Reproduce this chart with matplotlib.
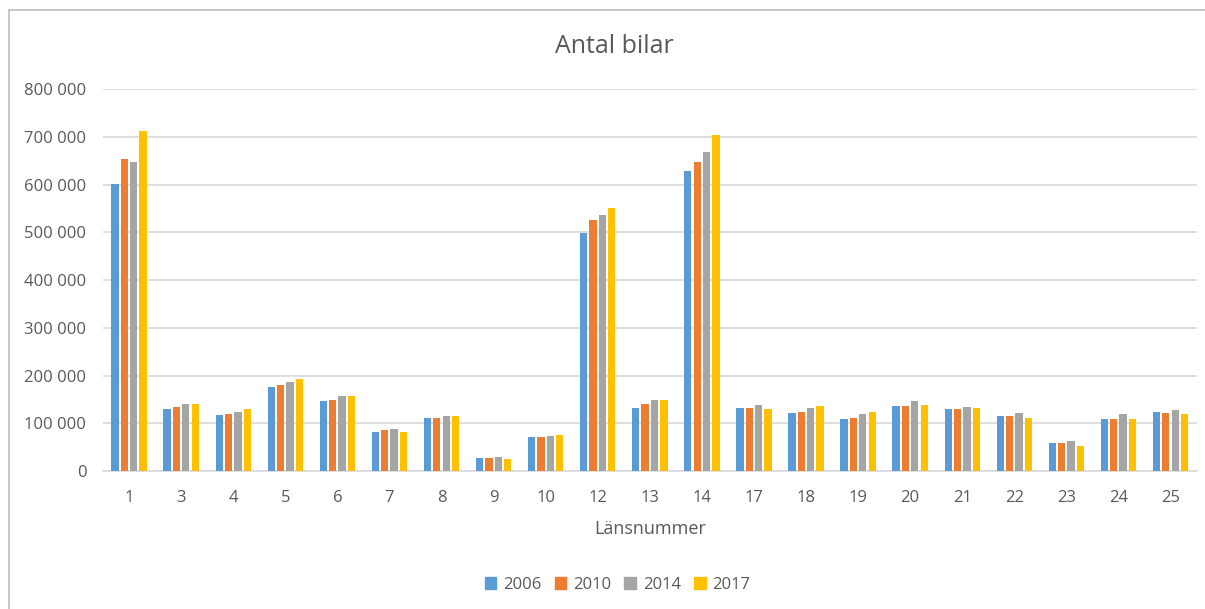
import numpy as np
import matplotlib.pyplot as plt
from matplotlib.ticker import FuncFormatter
from matplotlib.lines import Line2D

plt.rcParams['font.family'] = ['Open Sans', 'DejaVu Sans']

lan = ['1', '3', '4', '5', '6', '7', '8', '9', '10', '12', '13', '14',
       '17', '18', '19', '20', '21', '22', '23', '24', '25']
years = ['2006', '2010', '2014', '2017']
v2006 = [601000, 129000, 118000, 176000, 147000, 82000, 111000, 28000, 72000, 499000, 133000,
         628000, 132000, 121600, 110000, 136000, 130000, 114500, 58700, 110000, 123700]
v2010 = [654000, 135000, 120000, 181000, 149000, 85000, 111000, 28000, 72000, 527000, 141000,
         648600, 132000, 123700, 112000, 136000, 130000, 114500, 58700, 110000, 121600]
v2014 = [648000, 140000, 124500, 186600, 157600, 88500, 116000, 30000, 74000, 536000, 148000,
         668000, 139000, 132000, 119500, 147000, 134000, 121600, 63500, 119500, 128000]
v2017 = [712000, 140000, 129000, 193700, 157600, 82000, 116000, 26000, 76000, 551000, 148000,
         704000, 130000, 136000, 123700, 139000, 132000, 112000, 52000, 108000, 119500]
colors = ['#5B9BD5', '#ED7D31', '#A5A5A5', '#FFC000']

fig = plt.figure(figsize=(12.05, 6.09), dpi=100)
ax = fig.add_axes([0.0855, 0.2266, 0.9075, 0.6268])

x = np.arange(len(lan))
pitch = 0.18
for i, (vals, c) in enumerate(zip([v2006, v2010, v2014, v2017], colors)):
    ax.bar(x + (i - 1.5) * pitch, vals, width=0.14, color=c, label=years[i], zorder=3)

ax.set_xlim(-0.5, len(lan) - 0.5)
ax.set_ylim(0, 800000)
ax.set_yticks(np.arange(0, 800001, 100000))
ax.yaxis.set_major_formatter(FuncFormatter(lambda v, p: f'{int(v):,}'.replace(',', ' ')))
ax.set_xticks(x)
ax.set_xticklabels(lan)
ax.grid(axis='y', color='#D9D9D9', linewidth=1.2, zorder=0)
for s in ['top', 'right', 'left']:
    ax.spines[s].set_visible(False)
ax.spines['bottom'].set_color('#D9D9D9')
ax.spines['bottom'].set_linewidth(1.2)
ax.tick_params(axis='both', length=0, labelsize=12, colors='#595959')
ax.tick_params(axis='y', pad=12)
ax.tick_params(axis='x', pad=14)
ax.set_xlabel('Länsnummer', fontsize=13, color='#595959', labelpad=10)

fig.text(0.5097, 0.923, 'Antal bilar', ha='center', va='center', fontsize=18, color='#595959')

handles = [plt.Rectangle((0, 0), 1, 1, color=c) for c in colors]
fig.legend(handles, years, loc='center', bbox_to_anchor=(0.5125, 0.04), ncol=4, frameon=False,
           fontsize=12, labelcolor='#595959', handlelength=0.7, handleheight=0.7,
           handletextpad=0.4, columnspacing=0.8)

# outer chart border
fig.add_artist(Line2D([9 / 1205, 9 / 1205], [0, 1 - 10 / 609], color='#BFBFBF', linewidth=1.2))
fig.add_artist(Line2D([9 / 1205, 1], [1 - 10 / 609, 1 - 10 / 609], color='#BFBFBF', linewidth=1.2))

fig.savefig('out.png', dpi=100)
